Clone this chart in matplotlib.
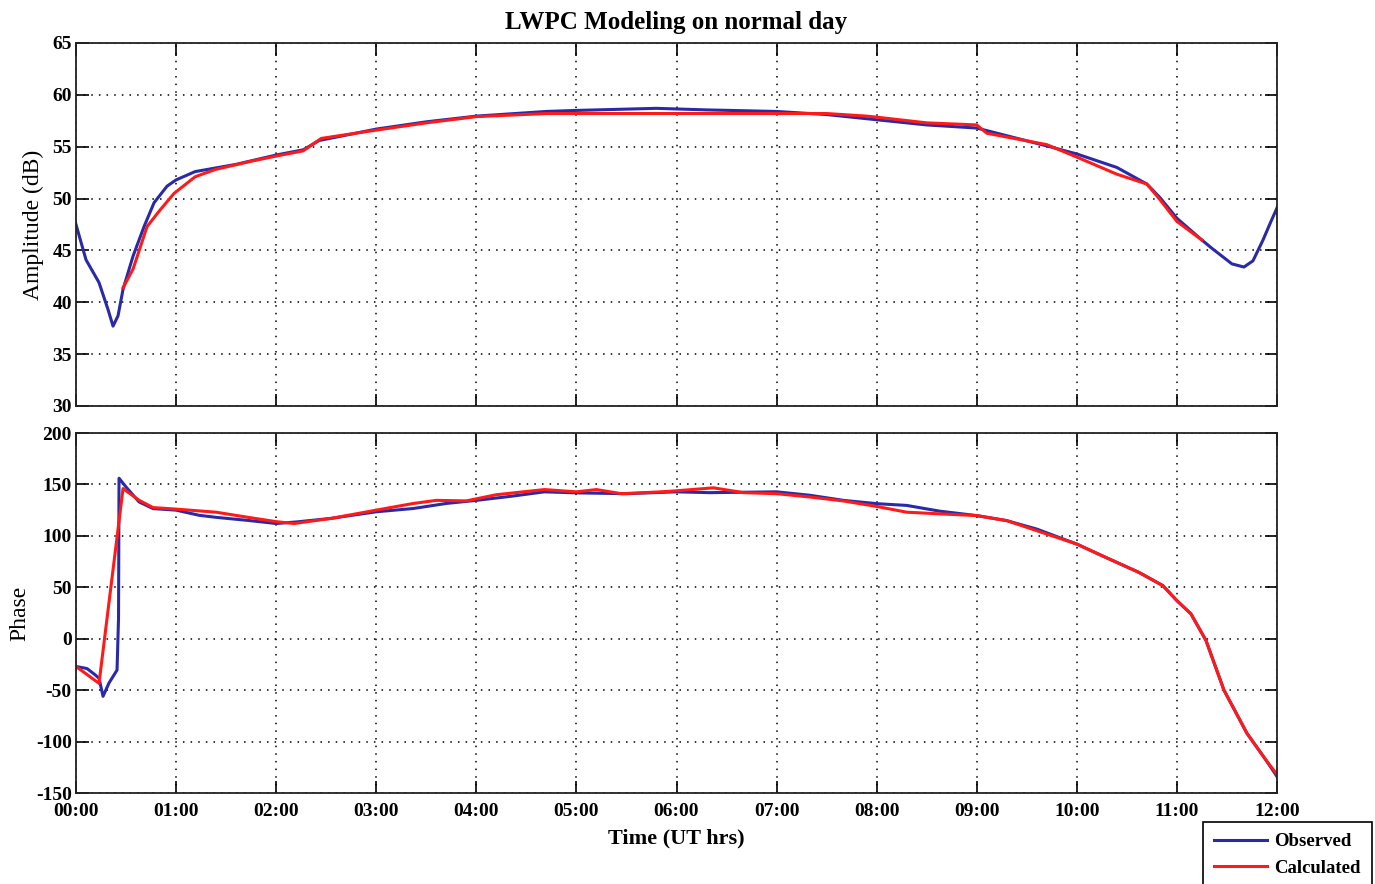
import matplotlib
matplotlib.use("Agg")
import matplotlib.pyplot as plt


plt.rcParams["font.family"] = ["Liberation Serif", "DejaVu Serif"]
plt.rcParams["axes.unicode_minus"] = False

# amplitude (dB) vs UT hours
amp_obs_t = [0, 0.1, 0.23, 0.32, 0.37, 0.42, 0.47, 0.57, 0.68, 0.78, 0.91, 1.0, 1.19,
             1.6, 2.0, 2.27, 2.43, 3.0, 3.5, 4.0, 4.7, 5.0, 5.8, 6.3, 7.0, 7.5, 8.0,
             8.5, 9.0, 9.73, 10.0, 10.4, 10.7, 10.83, 11.0, 11.25, 11.35, 11.55,
             11.67, 11.76, 11.86, 11.94, 12.0]
amp_obs = [47.5, 44.1, 41.9, 39.3, 37.7, 38.7, 41.25, 44.45, 47.3, 49.6, 51.2, 51.8, 52.6,
           53.3, 54.2, 54.7, 55.6, 56.7, 57.4, 57.95, 58.4, 58.5, 58.7, 58.55, 58.4, 58.1, 57.6,
           57.1, 56.8, 55.0, 54.3, 53.0, 51.4, 50.1, 48.1, 46.0, 45.2, 43.7,
           43.4, 44.0, 46.0, 47.8, 49.1]

amp_calc_t = [0.47, 0.57, 0.71, 0.84, 0.98, 1.19, 1.39, 1.75, 2.0, 2.27, 2.45, 3.0, 3.5,
              4.0, 4.7, 5.0, 6.0, 7.0, 7.5, 7.9, 8.0, 8.5, 9.0, 9.1, 9.7, 10.0, 10.4,
              10.7, 10.83, 11.0, 11.25]
amp_calc = [41.4, 43.2, 47.3, 48.9, 50.5, 52.1, 52.8, 53.6, 54.1, 54.6, 55.8, 56.6, 57.3,
            57.9, 58.2, 58.2, 58.2, 58.2, 58.2, 57.95, 57.85, 57.3, 57.1, 56.3, 55.2, 54.0, 52.35,
            51.4, 49.9, 47.8, 46.0]

# phase vs UT hours
ph_obs_t = [0, 0.11, 0.19, 0.23, 0.27, 0.33, 0.41, 0.425, 0.43, 0.5, 0.63, 0.77, 1.0, 1.23,
            1.4, 1.72, 2.0, 2.2, 2.55, 3.0, 3.37, 3.7, 4.0, 4.35, 4.68, 5.0, 5.5, 6.0,
            6.33, 7.0, 7.33, 7.67, 8.0, 8.3, 8.63, 9.0, 9.3, 9.6, 10.0, 10.29, 10.62,
            10.86, 11.0, 11.14, 11.29, 11.47, 11.7, 11.89, 12.0]
ph_obs = [-27, -29, -35, -38.5, -56, -43, -30.5, 20, 156, 147.5, 133, 126.5, 125, 120,
          118, 115, 112, 113.5, 117, 123.4, 126.6, 131.5, 134.5, 138.5, 142.8, 141.8, 141, 142.8,
          142, 142.8, 139.5, 134.5, 131.3, 129.6, 124, 119.7, 114.8, 106.6, 92, 79, 64.5,
          51.6, 37, 24.2, -1.6, -50, -92, -118, -134]

ph_calc_t = [0, 0.23, 0.47, 0.63, 0.77, 1.0, 1.4, 1.72, 2.0, 2.18, 2.55, 3.0, 3.37, 3.6,
             3.9, 4.2, 4.68, 5.0, 5.2, 5.45, 5.85, 6.0, 6.37, 6.67, 7.0, 7.33, 7.67, 8.0,
             8.3, 8.63, 9.0, 9.3, 9.6, 10.0, 10.29, 10.62, 10.86, 11.0, 11.14, 11.29,
             11.47, 11.7, 11.89, 12.0]
ph_calc = [-27, -43.4, 146, 134.6, 127.5, 126, 123, 118, 113.8, 112, 117, 125, 131.5, 134.5,
           134, 140, 145, 142.8, 145, 141, 142.8, 143.8, 146.7, 142, 141, 137.8, 133.9, 128.6,
           123, 121.4, 119.7, 114.8, 105, 92, 79, 64.5, 51.6, 37, 24.2, -1.6,
           -50, -92, -118, -132]

hour_ticks = list(range(0, 13))
hour_labels = [f"{h:02d}:00" for h in hour_ticks]

BLUE = "#2a2aa8"
RED = "#ff1a1a"

fig = plt.figure(figsize=(13.75, 8.84), dpi=100, facecolor="w")
ax1 = fig.add_axes([76 / 1375, 1 - 406 / 884, (1277 - 76) / 1375, (406 - 43) / 884])
ax2 = fig.add_axes([76 / 1375, 1 - 793 / 884, (1277 - 76) / 1375, (793 - 433) / 884])


def style_axis(ax):
    ax.set_xlim(0, 12)
    ax.set_xticks(hour_ticks)
    ax.grid(True, color="black", linestyle=(0, (1, 4)), linewidth=1.1)
    ax.tick_params(direction="in", length=9, width=1.2, top=True, right=True,
                   labelsize=14, pad=3)
    ax.tick_params(axis="x", pad=7)
    for spine in ax.spines.values():
        spine.set_linewidth(1.3)
        spine.set_color("#222222")
    for lab in ax.get_yticklabels() + ax.get_xticklabels():
        lab.set_fontweight("bold")


ax1.plot(amp_obs_t, amp_obs, color=BLUE, linewidth=2.2, label="Observed")
ax1.plot(amp_calc_t, amp_calc, color=RED, linewidth=2.2, label="Calculated")
ax1.set_ylim(30, 65)
ax1.set_yticks(range(30, 66, 5))
style_axis(ax1)
ax1.set_xticklabels([])
ax1.set_ylabel("Amplitude (dB)", fontsize=17, labelpad=6)
ax1.set_title("LWPC Modeling on normal day", fontsize=18, fontweight="bold", pad=10)

ax2.plot(ph_obs_t, ph_obs, color=BLUE, linewidth=2.2)
ax2.plot(ph_calc_t, ph_calc, color=RED, linewidth=2.2)
ax2.set_ylim(-150, 200)
ax2.set_yticks(range(-150, 201, 50))
ax2.set_xticklabels(hour_labels)
style_axis(ax2)
ax2.set_ylabel("Phase", fontsize=17, labelpad=4)
ax2.set_xlabel("Time (UT hrs)", fontsize=16, fontweight="bold", labelpad=6)

leg = fig.legend(loc="upper left", bbox_to_anchor=(1203 / 1375, 1 - 822 / 884),
                 prop={"weight": "bold", "size": 13.5}, frameon=True, fancybox=False,
                 edgecolor="black", framealpha=1, handlelength=2.8, handletextpad=0.4,
                 borderpad=0.6, labelspacing=0.5, borderaxespad=0)
leg.get_frame().set_linewidth(1.2)

fig.savefig("out.png", dpi=100)
